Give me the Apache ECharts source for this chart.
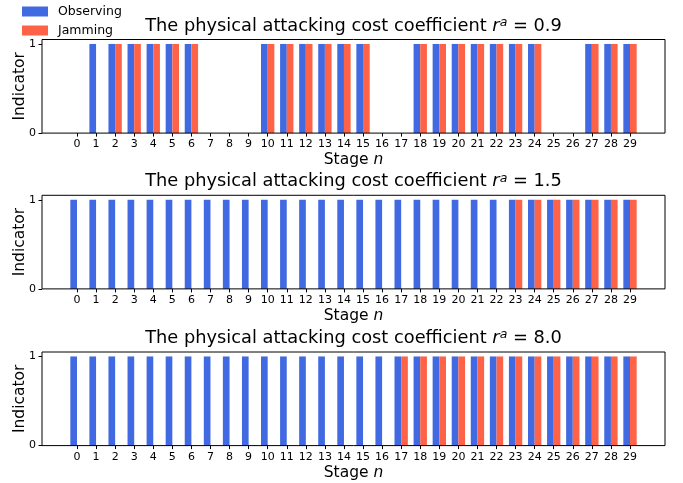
<!DOCTYPE html>
<html>
<head>
<meta charset="utf-8">
<script src="https://cdn.jsdelivr.net/npm/echarts@6/dist/echarts.min.js"></script>
<style>
html,body{margin:0;padding:0;background:#fff;}
#c{width:683px;height:483px;}
</style>
</head>
<body>
<div id="c"></div>
<script>
// ---- data ----
const stages = [0,1,2,3,4,5,6,7,8,9,10,11,12,13,14,15,16,17,18,19,20,21,22,23,24,25,26,27,28,29];
const coefficients = ['0.9', '1.5', '8.0'];
const observing09 = [0,1,1,1,1,1,1,0,0,0,1,1,1,1,1,1,0,0,1,1,1,1,1,1,1,0,0,1,1,1];
const jamming09   = [0,0,1,1,1,1,1,0,0,0,1,1,1,1,1,1,0,0,1,1,1,1,1,1,1,0,0,1,1,1];
const observing15 = [1,1,1,1,1,1,1,1,1,1,1,1,1,1,1,1,1,1,1,1,1,1,1,1,1,1,1,1,1,1];
const jamming15   = [0,0,0,0,0,0,0,0,0,0,0,0,0,0,0,0,0,0,0,0,0,0,0,1,1,1,1,1,1,1];
const observing80 = [1,1,1,1,1,1,1,1,1,1,1,1,1,1,1,1,1,1,1,1,1,1,1,1,1,1,1,1,1,1];
const jamming80   = [0,0,0,0,0,0,0,0,0,0,0,0,0,0,0,0,0,1,1,1,1,1,1,1,1,1,1,1,1,1];
const yTicks = [0, 1];
const seriesNames = ['Observing', 'Jamming'];

const panels = [
  {obs: observing09, jam: jamming09},
  {obs: observing15, jam: jamming15},
  {obs: observing80, jam: jamming80}
];

// ---- styles / layout ----
const FONT = 'DejaVu Sans';
const BLUE = '#4169E1';
const RED = '#FF6347';
const BAR_W = 0.35;
const gridTops = [39.5, 195.3, 352];
const gridH = 93.6;
const gridLeft = 42, gridRight = 18;

const chart = echarts.init(document.getElementById('c'), null, {renderer: 'canvas'});

function barRender(offset, color) {
  return function (params, api) {
    const x = api.value(0), y = api.value(1);
    const p0 = api.coord([x + offset, y]);
    const p1 = api.coord([x + offset + BAR_W, 0]);
    return {
      type: 'rect',
      shape: {x: p0[0], y: p0[1], width: p1[0] - p0[0], height: p1[1] - p0[1]},
      style: {fill: color}
    };
  };
}

const grids = [], xAxes = [], yAxes = [], series = [], graphics = [];
panels.forEach((p, i) => {
  grids.push({left: gridLeft, right: gridRight, top: gridTops[i], height: gridH,
    outerBoundsMode: 'none', containLabel: false,
    show: true, borderColor: '#000', borderWidth: 1, backgroundColor: 'transparent', z: 5});
  xAxes.push({
    type: 'value', gridIndex: i, min: -1.835, max: 30.835,
    splitLine: {show: false},
    axisLine: {show: false, onZero: false},
    axisTick: {show: true, length: 3.5, lineStyle: {color: '#000', width: 1}, customValues: stages},
    axisLabel: {customValues: stages, margin: 6, color: '#000', fontFamily: FONT, fontSize: 11},
    name: 'Stage {i|n}', nameLocation: 'middle', nameGap: 19,
    nameTextStyle: {fontFamily: FONT, fontSize: 15.5, color: '#000',
      rich: {i: {fontFamily: FONT, fontSize: 15.5, fontStyle: 'italic', color: '#000'}}}
  });
  yAxes.push({
    type: 'value', gridIndex: i, min: 0, max: 1.05,
    splitLine: {show: false},
    axisLine: {show: false, onZero: false},
    axisTick: {show: true, length: 3.5, lineStyle: {color: '#000', width: 1}, customValues: yTicks},
    axisLabel: {customValues: yTicks, margin: 6, color: '#000', fontFamily: FONT, fontSize: 11},
    name: 'Indicator', nameLocation: 'middle', nameGap: 14, nameMoveOverlap: false,
    nameTextStyle: {fontFamily: FONT, fontSize: 15.5, color: '#000'}
  });
  series.push({
    type: 'custom', name: seriesNames[0], xAxisIndex: i, yAxisIndex: i,
    data: stages.map((s, k) => [s, p.obs[k]]),
    encode: {x: 0, y: 1},
    itemStyle: {color: BLUE},
    renderItem: barRender(-BAR_W, BLUE), silent: true
  });
  series.push({
    type: 'custom', name: seriesNames[1], xAxisIndex: i, yAxisIndex: i,
    data: stages.map((s, k) => [s, p.jam[k]]),
    encode: {x: 0, y: 1},
    itemStyle: {color: RED},
    renderItem: barRender(0, RED), silent: true
  });
  graphics.push({
    type: 'text', x: gridLeft + (683 - gridLeft - gridRight) / 2, y: gridTops[i] - 13.5,
    style: {
      text: 'The physical attacking cost coefficient {i|r}{s|a}{n| = ' + coefficients[i] + '}',
      fill: '#000', font: '17.8px "' + FONT + '"', align: 'center', verticalAlign: 'middle',
      rich: {
        i: {fontFamily: FONT, fontSize: 17.8, fontStyle: 'italic', fill: '#000'},
        s: {fontFamily: FONT, fontSize: 12.5, fontStyle: 'italic', fill: '#000', verticalAlign: 'top', padding: [0, 0, 7, 0]},
        n: {fontFamily: FONT, fontSize: 17.8, fill: '#000'}
      }
    }
  });
});

chart.setOption({
  animation: false,
  backgroundColor: '#fff',
  textStyle: {fontFamily: FONT},
  legend: {
    data: seriesNames, orient: 'vertical', left: 22, top: 5, padding: 0,
    itemWidth: 26, itemHeight: 10, itemGap: 6, icon: 'rect',
    textStyle: {fontFamily: FONT, fontSize: 12.5, color: '#000', padding: [0, 0, 0, 5]}
  },
  grid: grids, xAxis: xAxes, yAxis: yAxes, series: series, graphic: graphics
});
</script>
</body>
</html>
